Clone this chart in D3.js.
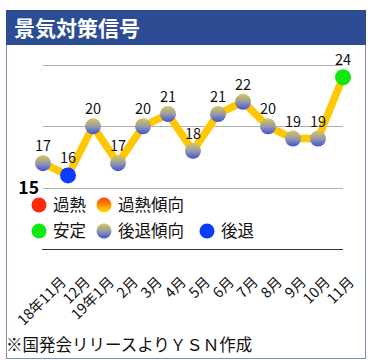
<!DOCTYPE html>
<html><head><meta charset="utf-8">
<script src="https://cdn.jsdelivr.net/npm/d3@7"></script>
<style>
html,body{margin:0;padding:0;background:#fff;}
svg{display:block;font-family:"Noto Sans CJK JP","Noto Sans",sans-serif;}
</style></head>
<body>
<svg id="c" width="374" height="360"></svg>
<script>
const title = "景気対策信号";
const source = "※国発会リリースよりＹＳＮ作成";
const months = ["18年11月","12月","19年1月","2月","3月","4月","5月","6月","7月","8月","9月","10月","11月"];
const values = [17,16,20,17,20,21,18,21,22,20,19,19,24];
const signals = ["後退傾向","後退","後退傾向","後退傾向","後退傾向","後退傾向","後退傾向","後退傾向","後退傾向","後退傾向","後退傾向","後退傾向","安定"];
const legendRow1 = ["過熱","過熱傾向"];
const legendRow2 = ["安定","後退傾向","後退"];
const gridValues = [15,20,25];
const tickLabels = ["15"];

const fills = {"過熱":"#ff2a0a","過熱傾向":"url(#gHeat)","安定":"#10e810","後退傾向":"url(#gFall)","後退":"#0a3cff"};

const svg = d3.select("#c");
const defs = svg.append("defs");
function grad(id, stops){
  const g = defs.append("linearGradient").attr("id",id).attr("x1",0).attr("y1",0).attr("x2",0).attr("y2",1);
  stops.forEach(s=>g.append("stop").attr("offset",s[0]).attr("stop-color",s[1]));
}
grad("gFall",[[0,"#d4c85c"],[0.5,"#9a9aa4"],[1,"#3c50e0"]]);
grad("gHeat",[[0,"#ff3c00"],[1,"#ffe000"]]);

// frame
svg.append("rect").attr("x",6.5).attr("y",10.5).attr("width",359).attr("height",348)
  .attr("fill","#fff").attr("stroke","#7f8fae").attr("stroke-width",1);
svg.append("rect").attr("x",6).attr("y",10).attr("width",360).attr("height",35).attr("fill","#2c4c94");
svg.append("text").attr("x",14).attr("y",36).attr("fill","#fff").attr("font-size",21)
  .attr("font-weight","bold").text(title);

const x = d3.scalePoint().domain(months).range([43,343]);
const y = d3.scaleLinear().domain([10,25]).range([249,65]);

// gridlines
svg.append("g").selectAll("line").data(gridValues).join("line")
  .attr("x1",43).attr("x2",343).attr("y1",d=>Math.round(y(d))+0.5).attr("y2",d=>Math.round(y(d))+0.5)
  .attr("stroke","#b0b0b0").attr("stroke-width",1);
// axis line
svg.append("line").attr("x1",42).attr("x2",343).attr("y1",Math.round(y(10))+0.5).attr("y2",Math.round(y(10))+0.5)
  .attr("stroke","#333").attr("stroke-width",1);
// y tick label
svg.append("g").selectAll("text").data(tickLabels).join("text")
  .attr("x",39).attr("y",d=>y(+d)+6).attr("text-anchor","end").attr("font-size",17.5)
  .attr("font-weight","bold").attr("fill","#000").text(d=>d);

// legend
const lg = svg.append("g");
const row1x = [39,104], row2x=[39,104,207];
[[legendRow1,row1x,205],[legendRow2,row2x,231]].forEach(([items,xs,cy])=>{
  items.forEach((name,i)=>{
    lg.append("circle").attr("cx",xs[i]).attr("cy",cy).attr("r",7.5).attr("fill",fills[name]);
    lg.append("text").attr("x",xs[i]+14).attr("y",cy+5.5).attr("font-size",16.5).attr("fill","#111").text(name);
  });
});

// line
svg.append("path").datum(values)
  .attr("d",d3.line().x((d,i)=>x(months[i])).y(d=>y(d)))
  .attr("fill","none").attr("stroke","#ffc800").attr("stroke-width",7.5).attr("stroke-linejoin","round");

// points
svg.append("g").selectAll("circle").data(values).join("circle")
  .attr("cx",(d,i)=>x(months[i])).attr("cy",d=>y(d)).attr("r",8)
  .attr("fill",(d,i)=>fills[signals[i]]);

// value labels
svg.append("g").selectAll("text").data(values).join("text")
  .attr("x",(d,i)=>x(months[i])).attr("y",d=>y(d)-12).attr("text-anchor","middle")
  .attr("font-size",14.5).attr("fill","#111").text(d=>d);

// x labels
const xl = d3.scalePoint().domain(months).range([67,355]);
svg.append("g").selectAll("text").data(months).join("text")
  .attr("transform",d=>`translate(${xl(d)},283) rotate(-45)`)
  .attr("text-anchor","end").attr("font-size",14.5).attr("fill","#111").text(d=>d);

// source
svg.append("text").attr("x",6).attr("y",351).attr("font-size",16.5).attr("fill","#111").text(source);
</script>
</body></html>
